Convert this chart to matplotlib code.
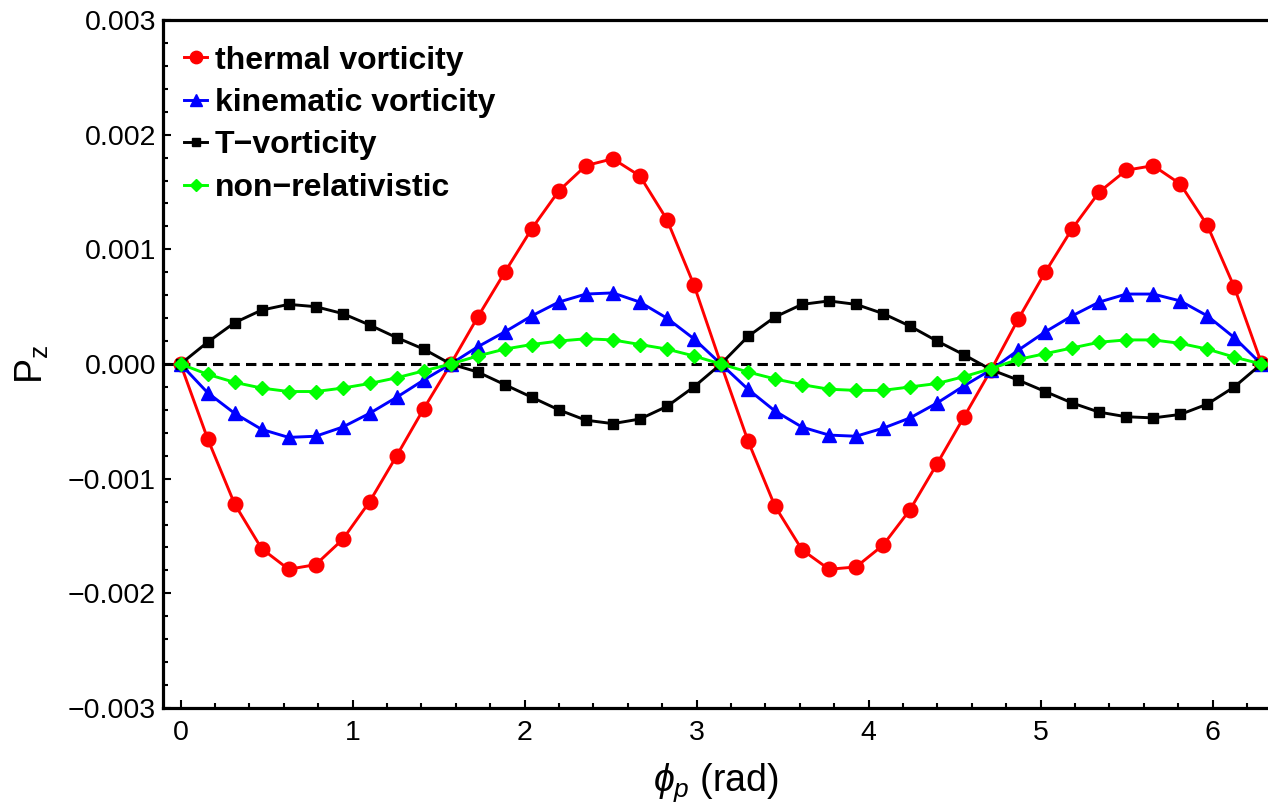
# Polarization P_z vs azimuthal angle for the four vorticity pictures
import numpy as np
import matplotlib
matplotlib.use('Agg')
import matplotlib.pyplot as plt
from matplotlib.ticker import MultipleLocator, FuncFormatter

plt.rcParams['font.family'] = ['Liberation Sans', 'DejaVu Sans']
plt.rcParams['mathtext.fontset'] = 'custom'
plt.rcParams['mathtext.rm'] = 'Liberation Sans'
plt.rcParams['mathtext.it'] = 'Liberation Sans:italic'

# %%
# data, 41 samples from 0 to 2*pi
phi = np.linspace(0, 2 * np.pi, 41)

thermal = [0.0, -0.00065, -0.00122, -0.00161, -0.00179, -0.00175, -0.00153, -0.00120, -0.00080, -0.00039, 0.0,
           0.00041, 0.00080, 0.00118, 0.00151, 0.00173, 0.00179, 0.00164, 0.00126, 0.00069, 0.0,
           -0.00067, -0.00124, -0.00162, -0.00179, -0.00177, -0.00158, -0.00127, -0.00087, -0.00046, -0.00005,
           0.00039, 0.00080, 0.00118, 0.00150, 0.00169, 0.00173, 0.00157, 0.00121, 0.00067, 0.00001]

kinematic = [0.0, -0.00025, -0.00043, -0.00057, -0.00064, -0.00063, -0.00055, -0.00043, -0.00029, -0.00014, 0.0,
             0.00015, 0.00028, 0.00042, 0.00054, 0.00061, 0.00062, 0.00054, 0.00040, 0.00022, 0.0,
             -0.00022, -0.00041, -0.00055, -0.00062, -0.00063, -0.00056, -0.00047, -0.00034, -0.00019, -0.00005,
             0.00012, 0.00028, 0.00042, 0.00054, 0.00061, 0.00061, 0.00055, 0.00042, 0.00023, 0.0]

t_vort = [0.0, 0.00019, 0.00036, 0.00047, 0.00052, 0.00050, 0.00044, 0.00034, 0.00023, 0.00013, 0.0,
          -0.00007, -0.00018, -0.00029, -0.00040, -0.00049, -0.00052, -0.00048, -0.00037, -0.00020, 0.0,
          0.00024, 0.00041, 0.00052, 0.00055, 0.00052, 0.00044, 0.00033, 0.00020, 0.00008, -0.00005,
          -0.00014, -0.00024, -0.00034, -0.00042, -0.00046, -0.00047, -0.00044, -0.00035, -0.00020, 0.0]

nonrel = [0.0, -0.00009, -0.00016, -0.00021, -0.00024, -0.00024, -0.00021, -0.00017, -0.00012, -0.00006, 0.0,
          0.00007, 0.00013, 0.00017, 0.00020, 0.00022, 0.00021, 0.00017, 0.00013, 0.00007, 0.0,
          -0.00007, -0.00013, -0.00018, -0.00022, -0.00023, -0.00023, -0.00020, -0.00017, -0.00011, -0.00004,
          0.00004, 0.00009, 0.00014, 0.00019, 0.00021, 0.00021, 0.00018, 0.00013, 0.00006, 0.0]

labels = ['thermal vorticity', 'kinematic vorticity', 'T\u2212vorticity', 'non\u2212relativistic']

# %%
fig = plt.figure(figsize=(12.68, 8.06), dpi=100)
ax = fig.add_axes([163 / 1268, 98 / 806, 1 - 163 / 1268, 688 / 806])

ax.axhline(0, color='black', lw=2.2, dashes=(3.4, 2.0), zorder=1)
ax.plot(phi, thermal, '-o', color='red', lw=2.1, ms=10.5, label=labels[0])
ax.plot(phi, kinematic, '-^', color='blue', lw=2.1, ms=9.5, label=labels[1])
ax.plot(phi, t_vort, '-s', color='black', lw=2.1, ms=6.5, label=labels[2])
ax.plot(phi, nonrel, '-D', color='#00ff00', lw=2.1, ms=7, label=labels[3])

ax.set_xlim(-0.102, 6.322)
ax.set_ylim(-0.003, 0.003)
ax.xaxis.set_major_locator(MultipleLocator(1))
ax.xaxis.set_minor_locator(MultipleLocator(0.2))
ax.yaxis.set_major_locator(MultipleLocator(0.001))
ax.yaxis.set_minor_locator(MultipleLocator(0.0002))
ax.yaxis.set_major_formatter(FuncFormatter(lambda v, p: ('%.3f' % v).replace('-', '\u2212')))

ax.tick_params(which='both', direction='in', labelsize=20.5, width=1.5)
ax.tick_params(which='major', length=6)
ax.tick_params(which='minor', length=3.5)
ax.tick_params(axis='x', pad=9)
ax.tick_params(axis='y', pad=5)
for s in ['left', 'bottom', 'top']:
    ax.spines[s].set_linewidth(2.3)
ax.spines['right'].set_visible(False)

ax.set_xlabel(r'$\phi_p$ (rad)', fontsize=27, labelpad=11)
ax.set_ylabel(r'P$_{\rm z}$', fontsize=27, labelpad=12)

ax.legend(loc='upper left', bbox_to_anchor=(-0.004, 1.0), frameon=False,
          prop={'weight': 'bold', 'size': 23}, handlelength=0.72, handletextpad=0.25,
          labelspacing=0.39, borderaxespad=0.4, markerscale=0.85)

fig.savefig('out.png', dpi=100)
